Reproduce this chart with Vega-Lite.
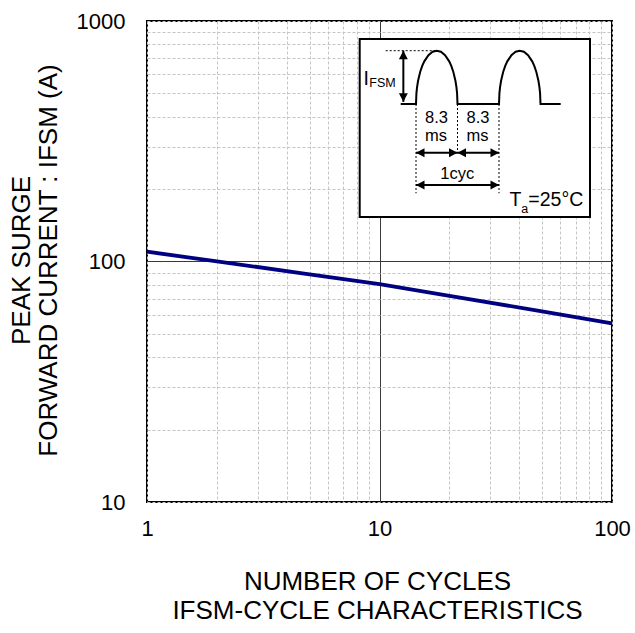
{
  "$schema": "https://vega.github.io/schema/vega-lite/v6.json",
  "width": 465,
  "height": 481,
  "autosize": {"type": "none"},
  "padding": {"left": 147, "top": 21, "right": 23, "bottom": 131},
  "background": "white",
  "config": {
    "view": {"stroke": "black", "strokeWidth": 2},
    "font": "Liberation Sans"
  },
  "datasets": {
    "curve": [
      {"n": 1, "i": 109.8}, {"n": 2, "i": 100.1}, {"n": 5, "i": 88.5},
      {"n": 10, "i": 80.6}, {"n": 20, "i": 72.0}, {"n": 50, "i": 62.0},
      {"n": 100, "i": 55.3}
    ],
    "box": [{"t": -11.26, "t2": 34.8, "v": -2.12, "v2": 1.22}],
    "wave": [
      {"k": 0, "t": -3.06, "v": 0},
      {"k": 1, "t": 0, "v": 0},
      {"k": 2, "t": 0.083, "v": 0.199},
      {"k": 3, "t": 0.2075, "v": 0.312},
      {"k": 4, "t": 0.415, "v": 0.436},
      {"k": 5, "t": 0.83, "v": 0.6},
      {"k": 6, "t": 1.245, "v": 0.714},
      {"k": 7, "t": 1.66, "v": 0.8},
      {"k": 8, "t": 2.49, "v": 0.917},
      {"k": 9, "t": 3.32, "v": 0.98},
      {"k": 10, "t": 4.15, "v": 1},
      {"k": 11, "t": 4.98, "v": 0.98},
      {"k": 12, "t": 5.81, "v": 0.917},
      {"k": 13, "t": 6.64, "v": 0.8},
      {"k": 14, "t": 7.055, "v": 0.714},
      {"k": 15, "t": 7.47, "v": 0.6},
      {"k": 16, "t": 7.885, "v": 0.436},
      {"k": 17, "t": 8.0925, "v": 0.312},
      {"k": 18, "t": 8.217, "v": 0.199},
      {"k": 19, "t": 8.3, "v": 0},
      {"k": 20, "t": 16.6, "v": 0},
      {"k": 21, "t": 16.683, "v": 0.199},
      {"k": 22, "t": 16.8075, "v": 0.312},
      {"k": 23, "t": 17.015, "v": 0.436},
      {"k": 24, "t": 17.43, "v": 0.6},
      {"k": 25, "t": 17.845, "v": 0.714},
      {"k": 26, "t": 18.26, "v": 0.8},
      {"k": 27, "t": 19.09, "v": 0.917},
      {"k": 28, "t": 19.92, "v": 0.98},
      {"k": 29, "t": 20.75, "v": 1},
      {"k": 30, "t": 21.58, "v": 0.98},
      {"k": 31, "t": 22.41, "v": 0.917},
      {"k": 32, "t": 23.24, "v": 0.8},
      {"k": 33, "t": 23.655, "v": 0.714},
      {"k": 34, "t": 24.07, "v": 0.6},
      {"k": 35, "t": 24.485, "v": 0.436},
      {"k": 36, "t": 24.6925, "v": 0.312},
      {"k": 37, "t": 24.817, "v": 0.199},
      {"k": 38, "t": 24.9, "v": 0},
      {"k": 39, "t": 28.94, "v": 0}
    ],
    "dotted": [
      {"t": -6.06, "t2": 4.15, "v": 1, "v2": 1},
      {"t": 0, "t2": 0, "v": 0, "v2": -1.675},
      {"t": 8.3, "t2": 8.3, "v": 0, "v2": -0.914},
      {"t": 16.6, "t2": 16.6, "v": 0, "v2": -1.675}
    ],
    "shafts": [
      {"t": -2.53, "t2": -2.53, "v": 0.04, "v2": 1.0},
      {"t": 0, "t2": 16.6, "v": -0.914, "v2": -0.914},
      {"t": 0, "t2": 16.6, "v": -1.52, "v2": -1.52}
    ],
    "heads": [
      {"t": -2.53, "v": 1.0, "dir": "up"},
      {"t": -2.53, "v": 0.04, "dir": "down"},
      {"t": 0, "v": -0.914, "dir": "left"},
      {"t": 8.3, "v": -0.914, "dir": "right"},
      {"t": 8.3, "v": -0.914, "dir": "left"},
      {"t": 16.6, "v": -0.914, "dir": "right"},
      {"t": 0, "v": -1.52, "dir": "left"},
      {"t": 16.6, "v": -1.52, "dir": "right"}
    ],
    "labelsMid": [
      {"t": 4.1, "v": -0.36, "txt": "8.3"},
      {"t": 12.4, "v": -0.36, "txt": "8.3"},
      {"t": 4.0, "v": -0.69, "txt": "ms"},
      {"t": 12.3, "v": -0.69, "txt": "ms"},
      {"t": 8.24, "v": -1.41, "txt": "1cyc"}
    ],
    "labelsBig": [
      {"t": -10.5, "v": 0.356, "txt": "I"},
      {"t": 18.7, "v": -1.914, "txt": "T"},
      {"t": 22.46, "v": -1.914, "txt": "=25°C"}
    ],
    "labelsSub": [
      {"t": -9.34, "v": 0.325, "txt": "FSM"},
      {"t": 21.06, "v": -2.05, "txt": "a"}
    ]
  },
  "layer": [
    {
      "data": {"name": "curve"},
      "mark": {"type": "line", "color": "#000080", "strokeWidth": 3.8},
      "encoding": {
        "x": {
          "field": "n",
          "type": "quantitative",
          "scale": {"type": "log", "domain": [1, 100], "nice": false},
          "axis": {
            "title": ["NUMBER OF CYCLES", "IFSM-CYCLE CHARACTERISTICS"],
            "values": [1, 2, 3, 4, 5, 6, 7, 8, 9, 10, 20, 30, 40, 50, 60, 70, 80, 90, 100],
            "grid": true,
            "ticks": false,
            "domain": false,
            "labelFlush": false,
            "labelOverlap": false,
            "labelBound": false,
            "labelFontSize": 22,
            "labelColor": "black",
            "labelPadding": 16,
            "labelExpr": "datum.value == 1 || datum.value == 10 || datum.value == 100 ? datum.value + '' : ''",
            "gridColor": {"condition": {"test": "datum.value == 10", "value": "#3a3a3a"}, "value": "#c4c4c4"},
            "gridDash": {"condition": {"test": "datum.value == 10", "value": []}, "value": [3, 2]},
            "gridWidth": 1,
            "titleFontSize": 26,
            "titleFontWeight": "normal",
            "titleColor": "black",
            "titleBaseline": "alphabetic",
            "titleAlign": "center",
            "titleX": 230,
            "titleY": 87,
            "titleLineHeight": 29
          }
        },
        "y": {
          "field": "i",
          "type": "quantitative",
          "scale": {"type": "log", "domain": [10, 1000], "nice": false},
          "axis": {
            "title": ["PEAK SURGE", "FORWARD CURRENT : IFSM (A)"],
            "values": [10, 20, 30, 40, 50, 60, 70, 80, 90, 100, 200, 300, 400, 500, 600, 700, 800, 900, 1000],
            "grid": true,
            "ticks": false,
            "domain": false,
            "labelFlush": false,
            "labelOverlap": false,
            "labelBound": false,
            "labelFontSize": 22,
            "labelColor": "black",
            "labelPadding": 22,
            "labelExpr": "datum.value == 10 || datum.value == 100 || datum.value == 1000 ? datum.value + '' : ''",
            "gridColor": {"condition": {"test": "datum.value == 100", "value": "#3a3a3a"}, "value": "#c4c4c4"},
            "gridDash": {"condition": {"test": "datum.value == 100", "value": []}, "value": [3, 2]},
            "gridWidth": 1,
            "titleFontSize": 26,
            "titleFontWeight": "normal",
            "titleColor": "black",
            "titleAngle": -90,
            "titleBaseline": "middle",
            "titleAlign": "center",
            "titleX": -125.5,
            "titleY": 239,
            "titleLineHeight": 27
          }
        }
      }
    },
    {
      "encoding": {
        "x": {"field": "t", "type": "quantitative", "scale": {"domain": [-53.8, 39.2], "nice": false, "zero": false}, "axis": null},
        "y": {"field": "v", "type": "quantitative", "scale": {"domain": [-7.467, 1.557], "nice": false, "zero": false}, "axis": null}
      },
      "layer": [
        {
          "data": {"name": "box"},
          "mark": {"type": "rect", "fill": "white", "stroke": "black", "strokeWidth": 2},
          "encoding": {"x2": {"field": "t2"}, "y2": {"field": "v2"}}
        },
        {
          "data": {"name": "dotted"},
          "mark": {"type": "rule", "color": "black", "strokeWidth": 1, "strokeDash": [2, 2]},
          "encoding": {"x2": {"field": "t2"}, "y2": {"field": "v2"}}
        },
        {
          "data": {"name": "wave"},
          "mark": {"type": "line", "color": "black", "strokeWidth": 2},
          "encoding": {"order": {"field": "k", "type": "quantitative"}}
        },
        {
          "data": {"name": "shafts"},
          "mark": {"type": "rule", "color": "black", "strokeWidth": 2},
          "encoding": {"x2": {"field": "t2"}, "y2": {"field": "v2"}}
        },
        {
          "data": {"name": "heads"},
          "mark": {"type": "point", "filled": true, "color": "black", "opacity": 1, "size": 72, "strokeWidth": 0},
          "encoding": {
            "shape": {
              "field": "dir",
              "type": "nominal",
              "scale": {
                "domain": ["right", "left", "up", "down"],
                "range": ["M0,0L-2,-1.05L-2,1.05Z", "M0,0L2,-1.05L2,1.05Z", "M0,0L-1.05,2L1.05,2Z", "M0,0L-1.05,-2L1.05,-2Z"]
              },
              "legend": null
            }
          }
        },
        {
          "data": {"name": "labelsMid"},
          "mark": {"type": "text", "fontSize": 16.5, "align": "center", "baseline": "alphabetic", "color": "black"},
          "encoding": {"text": {"field": "txt"}}
        },
        {
          "data": {"name": "labelsBig"},
          "mark": {"type": "text", "fontSize": 19.5, "align": "left", "baseline": "alphabetic", "color": "black"},
          "encoding": {"text": {"field": "txt"}}
        },
        {
          "data": {"name": "labelsSub"},
          "mark": {"type": "text", "fontSize": 12.5, "align": "left", "baseline": "alphabetic", "color": "black"},
          "encoding": {"text": {"field": "txt"}}
        }
      ]
    }
  ],
  "resolve": {"scale": {"x": "independent", "y": "independent", "shape": "independent"}}
}
